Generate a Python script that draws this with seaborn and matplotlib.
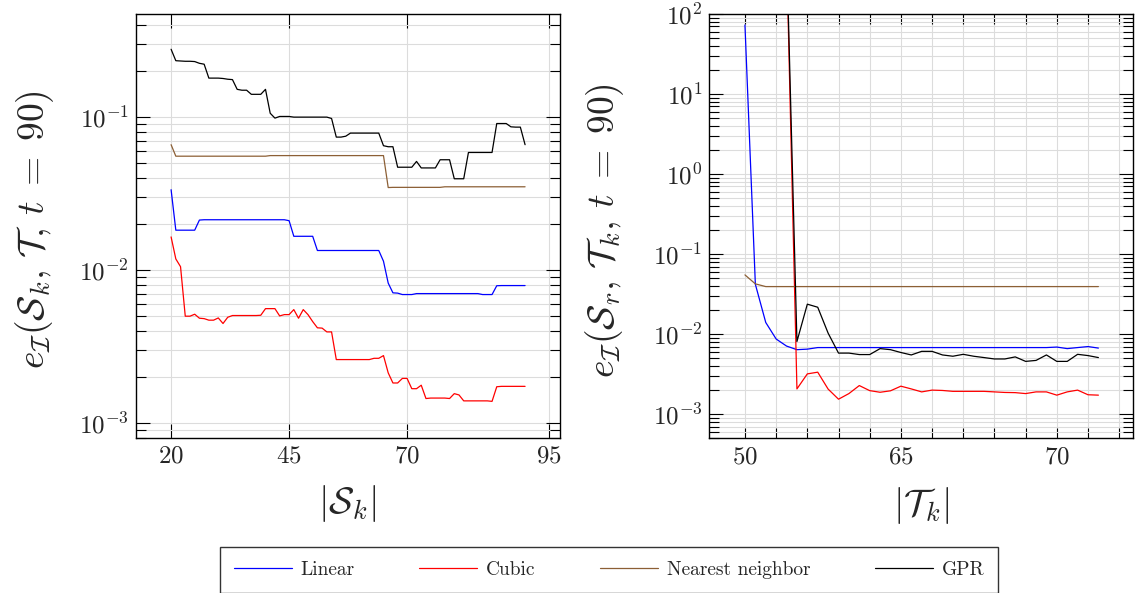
import numpy as np
import pandas as pd
import matplotlib
matplotlib.use("Agg")
import matplotlib.pyplot as plt
import seaborn as sns
from matplotlib.ticker import LogLocator, FixedLocator, FuncFormatter, NullFormatter, NullLocator
from matplotlib.lines import Line2D

# ---------------- data ----------------
methods = ["Linear", "Cubic", "Nearest neighbor", "GPR"]
colors = ["#0000ff", "#ff0000", "#8c5f35", "#000000"]

# left panel: |S_k| = 20..95
s_k = list(range(20, 96))
lin_left = ([0.0335, 0.0182] + [0.0182] * 4 + [0.0212] + [0.0213] * 18 + [0.0210, 0.0166]
            + [0.0166] * 4 + [0.0134] + [0.0134] * 13 + [0.0114, 0.0082, 0.00708, 0.00705]
            + [0.0069] * 3 + [0.0070] * 14 + [0.0069] * 3 + [0.00788] + [0.0079] * 6)
cub_left = ([0.01644, 0.0118, 0.0105, 0.00498, 0.00498, 0.00513, 0.00483, 0.00480, 0.00469,
             0.00469, 0.00485, 0.00446, 0.0049, 0.00503, 0.00503, 0.00503, 0.00503, 0.00503,
             0.00503, 0.00505, 0.00558, 0.00558, 0.00558, 0.0050, 0.0051, 0.0051, 0.0055,
             0.00483, 0.0055, 0.0051, 0.00459, 0.00418, 0.00416, 0.00393, 0.00393, 0.00259]
            + [0.00259] * 7
            + [0.00264, 0.00264, 0.00275, 0.00212, 0.00182, 0.00182, 0.00195, 0.00195,
               0.00167, 0.00167, 0.00176, 0.00144]
            + [0.00145] * 4 + [0.00144, 0.00155, 0.00152, 0.00139] + [0.00139] * 5
            + [0.00138, 0.00172] + [0.00173] * 6)
nn_left = ([0.066] + [0.0555] * 20 + [0.0560] * 25 + [0.0346] + [0.0347] * 11 + [0.0350] * 18)
gpr_left = ([0.278, 0.234, 0.233, 0.232, 0.232, 0.231, 0.225, 0.222,
             0.180, 0.180, 0.180, 0.179, 0.177, 0.176,
             0.152, 0.150, 0.150, 0.141, 0.141, 0.141, 0.152,
             0.106, 0.0985, 0.101, 0.101, 0.101, 0.100, 0.100, 0.100, 0.100, 0.100, 0.100,
             0.100, 0.100, 0.098,
             0.074, 0.074, 0.075] + [0.0786] * 7
            + [0.065, 0.064, 0.064,
               0.047, 0.047, 0.047, 0.047, 0.0513, 0.0465, 0.0465, 0.0465, 0.0465,
               0.0526, 0.0526, 0.0526, 0.0395, 0.0395, 0.0395]
            + [0.0587] * 6
            + [0.0908, 0.0908, 0.0908, 0.0864, 0.086, 0.086, 0.066])

# right panel: |T_k| = 50..84
t_k = list(range(50, 85))
lin_right = ([73.0, 0.042, 0.0140, 0.0087, 0.0071, 0.0064, 0.0065, 0.0068]
             + [0.0068] * 22 + [0.0069, 0.0066, 0.0068, 0.0070, 0.0067])
cub_right = [2e4, 1e4, 5e3, 2e3, 600.0,
             0.00207, 0.00319, 0.00335, 0.00206, 0.00154, 0.00181, 0.00228, 0.00197,
             0.00188, 0.00196, 0.00224, 0.00207, 0.0019, 0.0020, 0.00198, 0.00193,
             0.00193, 0.00193, 0.00193, 0.0019, 0.00187, 0.00186, 0.00181, 0.0019,
             0.0019, 0.00173, 0.0019, 0.0020, 0.00175, 0.00173]
nn_right = [0.055, 0.0425, 0.0393] + [0.0393] * 32
gpr_right = [3e4, 1.5e4, 6e3, 2.5e3, 700.0,
             0.0081, 0.0237, 0.0217, 0.0103, 0.0058, 0.0058, 0.00556, 0.00556, 0.0066,
             0.0064, 0.0059, 0.0055, 0.0061, 0.0061, 0.0055, 0.0053, 0.0056, 0.0053,
             0.0051, 0.0049, 0.0049, 0.0052, 0.00457, 0.0047, 0.0055, 0.00457, 0.00457,
             0.0056, 0.0054, 0.0051]

left_ticks = [20, 45, 70, 100]
left_ticklabels = ["20", "45", "70", "95"]
right_ticks = list(range(50, 87, 3))
right_ticklabels = {50: "50", 65: "65", 80: "70"}

# ---------------- style ----------------
sns.set_theme(style="white")
plt.rcParams["mathtext.fontset"] = "cm"
plt.rcParams["font.family"] = ["DejaVu Serif"]

W, H = 1137, 593
fig = plt.figure(figsize=(W / 100, H / 100), dpi=100)
axL = fig.add_axes([135.7 / W, 1 - 437.7 / H, (560 - 135.7) / W, (437.7 - 14) / H])
axR = fig.add_axes([709.3 / W, 1 - 438.3 / H, (1132.7 - 709.3) / W, (438.3 - 14) / H])

palette = dict(zip(methods, colors))


def long_df(x, series):
    xs, ys, ms = [], [], []
    for m, s in zip(methods, series):
        xs += list(x)
        ys += list(s)
        ms += [m] * len(s)
    return pd.DataFrame({"x": xs, "y": ys, "method": ms})


dfL = long_df(s_k, [lin_left, cub_left, nn_left, gpr_left])
dfR = long_df(t_k, [lin_right, cub_right, nn_right, gpr_right])

for ax, df in ((axL, dfL), (axR, dfR)):
    sns.lineplot(data=df, x="x", y="y", hue="method", hue_order=methods, palette=palette,
                 ax=ax, legend=False, linewidth=0.9, estimator=None, sort=False)
    ax.set_yscale("log")
    ax.set_xlabel("")
    ax.set_ylabel("")
    ax.yaxis.set_major_locator(LogLocator(base=10, numticks=20))
    ax.yaxis.set_minor_locator(LogLocator(base=10, subs=np.arange(2, 10), numticks=20))
    ax.yaxis.set_minor_formatter(NullFormatter())
    ax.yaxis.set_major_formatter(FuncFormatter(lambda v, p: r"$10^{%d}$" % int(round(np.log10(v)))))
    ax.xaxis.set_minor_locator(NullLocator())
    ax.tick_params(which="both", direction="in", top=True, right=True, bottom=True, left=True,
                   color="black", width=0.8, labelsize=18, pad=5)
    ax.tick_params(which="major", length=10)
    ax.tick_params(which="minor", length=7)
    ax.grid(True, which="both", axis="y", color="#dcdcdc", linewidth=0.8)
    ax.grid(True, which="major", axis="x", color="#dcdcdc", linewidth=0.8)
    ax.set_axisbelow(True)
    for sp in ax.spines.values():
        sp.set_color("black")
        sp.set_linewidth(1.0)

axL.set_xlim(12.5, 102.4)
axL.set_ylim(0.000798, 0.473)
axL.set_xticks(left_ticks)
axL.set_xticklabels(["$%s$" % t for t in left_ticklabels])

axR.set_xlim(46.57, 87.3)
axR.set_ylim(5e-4, 100.0)
axR.set_xticks(right_ticks)
axR.set_xticklabels(["$%s$" % right_ticklabels[t] if t in right_ticklabels else "" for t in right_ticks])
axR.tick_params(axis="x", which="major", length=7)

# axis labels
fig.text(35 / W, 1 - 230 / H, r"$e_{\mathcal{I}}(\mathcal{S}_k,\,\mathcal{T},\,t\;=\;90)$",
         rotation=90, ha="center", va="center", fontsize=27)
fig.text(605 / W, 1 - 231 / H, r"$e_{\mathcal{I}}(\mathcal{S}_r,\,\mathcal{T}_k,\,t\;=\;90)$",
         rotation=90, ha="center", va="center", fontsize=27)
fig.text(347.8 / W, 1 - 504 / H, r"$|\mathcal{S}_k|$", ha="center", va="center", fontsize=27)
fig.text(921 / W, 1 - 506 / H, r"$|\mathcal{T}_k|$", ha="center", va="center", fontsize=27)

# legend
handles = [Line2D([], [], color=c, linewidth=0.9) for c in colors]
leg = fig.legend(handles, methods, loc="center", bbox_to_anchor=(609 / W, 1 - 570 / H),
                 ncol=4, frameon=True, fancybox=False, framealpha=1, edgecolor="#333333",
                 prop={"family": "cmr10", "size": 14}, handlelength=3.0, handletextpad=0.45,
                 columnspacing=3.3, borderpad=0.7, borderaxespad=0)
leg.get_frame().set_linewidth(1.0)

fig.savefig("out.png", dpi=100)
